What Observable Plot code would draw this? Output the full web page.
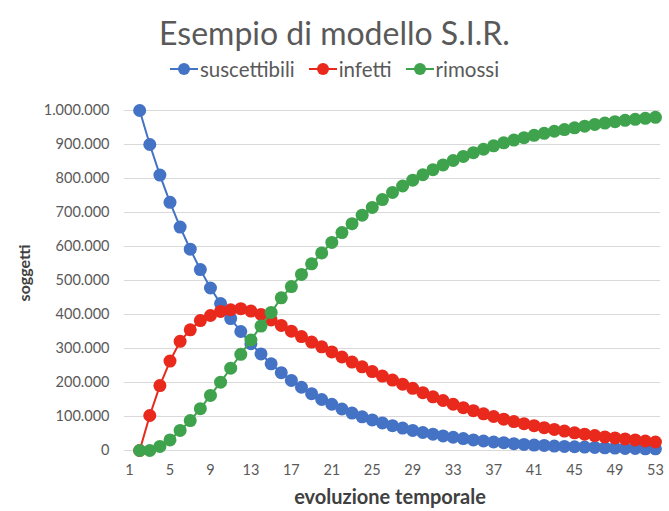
<!DOCTYPE html>
<html>
<head>
<meta charset="utf-8">
<script src="https://cdn.jsdelivr.net/npm/d3@7"></script>
<script src="https://cdn.jsdelivr.net/npm/@observablehq/plot@0.6"></script>
<style>
  html, body { margin: 0; padding: 0; background: #fff; }
  #wrap { position: relative; width: 669px; height: 511px; overflow: hidden; font-family: Lato, "Open Sans", sans-serif; }
  #wrap > svg { position: absolute; left: 0; top: 0; }
  .title { position: absolute; left: 0; width: 669px; top: 13px; text-align: center; font-size: 32px; color: #595959; }
  .legend { position: absolute; left: 0; width: 669px; top: 57px; display: flex; justify-content: center; gap: 14px; font-size: 20.5px; color: #595959; align-items: center; }
  .legend span.item { display: inline-flex; align-items: center; gap: 2px; }
  .ytitle { position: absolute; left: 23px; top: 273px; transform: translate(-50%, -50%) rotate(-90deg); font-weight: bold; font-size: 16px; color: #404040; white-space: nowrap; }
  .xtitle { position: absolute; left: 0; width: 780px; top: 484px; text-align: center; font-weight: bold; font-size: 20px; color: #404040; }
</style>
</head>
<body>
<div id="wrap"></div>
<script>
const serieNames = ["suscettibili", "infetti", "rimossi"];
const serieColors = ["#4472c4", "#e8291c", "#3fa34d"];

const tempo = [2, 3, 4, 5, 6, 7, 8, 9, 10, 11, 12, 13, 14, 15, 16, 17, 18, 19, 20, 21, 22, 23, 24, 25, 26, 27,
  28, 29, 30, 31, 32, 33, 34, 35, 36, 37, 38, 39, 40, 41, 42, 43, 44, 45, 46, 47, 48, 49, 50, 51, 52, 53];

const suscettibili = [1000000, 900000, 810000, 730000, 657000, 592000, 532000, 478000, 432000, 388000,
  350000, 314000, 284000, 255000, 229000, 206000, 186000, 167000, 150000, 136000,
  122000, 110000, 99000, 90000, 81000, 73000, 66000, 59000, 53000, 48000,
  43000, 39000, 35000, 31000, 28000, 25000, 23000, 20000, 18000, 16000,
  15000, 13000, 12000, 11000, 10000, 9000, 8000, 7000, 6000, 6000, 5000, 5000];

const infetti = [0, 103000, 191000, 263000, 321000, 355000, 382000, 397000, 409000, 414000,
  417000, 410000, 400000, 384000, 368000, 351000, 335000, 319000, 305000, 290000,
  275000, 260000, 246000, 232000, 219000, 207000, 195000, 183000, 170000, 158000,
  147000, 136000, 126000, 117000, 108000, 100000, 92000, 85000, 79000, 73000,
  67000, 62000, 57000, 52000, 48000, 44000, 40000, 37000, 34000, 31000, 28000, 25000];

const rimossi = [0, 0, 12000, 31000, 59000, 88000, 123000, 162000, 201000, 242000,
  283000, 325000, 366000, 406000, 449000, 482000, 518000, 549000, 581000, 612000,
  641000, 667000, 692000, 715000, 738000, 759000, 778000, 795000, 811000, 826000,
  840000, 853000, 865000, 876000, 886000, 896000, 905000, 913000, 920000, 927000,
  933000, 939000, 944000, 949000, 954000, 959000, 963000, 967000, 971000, 974000, 977000, 980000];

const yTicks = [0, 100000, 200000, 300000, 400000, 500000, 600000, 700000, 800000, 900000, 1000000];
const xTicks = [1, 5, 9, 13, 17, 21, 25, 29, 33, 37, 41, 45, 49, 53];

const titolo = "Esempio di modello S.I.R.";
const asseX = "evoluzione temporale";
const asseY = "soggetti";

const seriesValues = [suscettibili, infetti, rimossi];
const data = [];
serieNames.forEach((s, k) => tempo.forEach((t, i) => data.push({t, v: seriesValues[k][i], s})));

const fmt = d => d3.format(",")(d).replace(/,/g, ".");

const marks = [Plot.ruleY(yTicks, {stroke: "#d9d9d9", strokeWidth: 1})];
serieNames.forEach((s, k) => {
  const rows = data.filter(d => d.s === s);
  marks.push(Plot.line(rows, {x: "t", y: "v", stroke: serieColors[k], strokeWidth: 2}));
  marks.push(Plot.dot(rows, {x: "t", y: "v", fill: serieColors[k], r: 6.5}));
});

const chart = Plot.plot({
  width: 669,
  height: 511,
  marginTop: 110,
  marginBottom: 61,
  marginLeft: 124,
  marginRight: 9,
  style: {fontFamily: "Lato, 'Open Sans', sans-serif", fontSize: "14.5px", color: "#595959", background: "transparent"},
  x: {domain: [0.5, 53.5], ticks: xTicks, tickSize: 0, tickPadding: 14, label: null, tickFormat: d => String(d)},
  y: {domain: [0, 1000000], ticks: yTicks, tickSize: 0, tickPadding: 15, label: null, tickFormat: fmt},
  marks
});

const wrap = document.getElementById("wrap");
wrap.appendChild(chart);

const title = document.createElement("div");
title.className = "title";
title.textContent = titolo;
wrap.appendChild(title);

const legend = document.createElement("div");
legend.className = "legend";
serieNames.forEach((s, k) => {
  const item = document.createElement("span");
  item.className = "item";
  item.innerHTML = `<svg width="28" height="14"><line x1="0" x2="28" y1="7" y2="7" stroke="${serieColors[k]}" stroke-width="2"/><circle cx="14" cy="7" r="6" fill="${serieColors[k]}"/></svg>`;
  const txt = document.createElement("span");
  txt.textContent = s;
  item.appendChild(txt);
  legend.appendChild(item);
});
wrap.appendChild(legend);

const yt = document.createElement("div");
yt.className = "ytitle";
yt.textContent = asseY;
wrap.appendChild(yt);

const xt = document.createElement("div");
xt.className = "xtitle";
xt.textContent = asseX;
wrap.appendChild(xt);
</script>
</body>
</html>
